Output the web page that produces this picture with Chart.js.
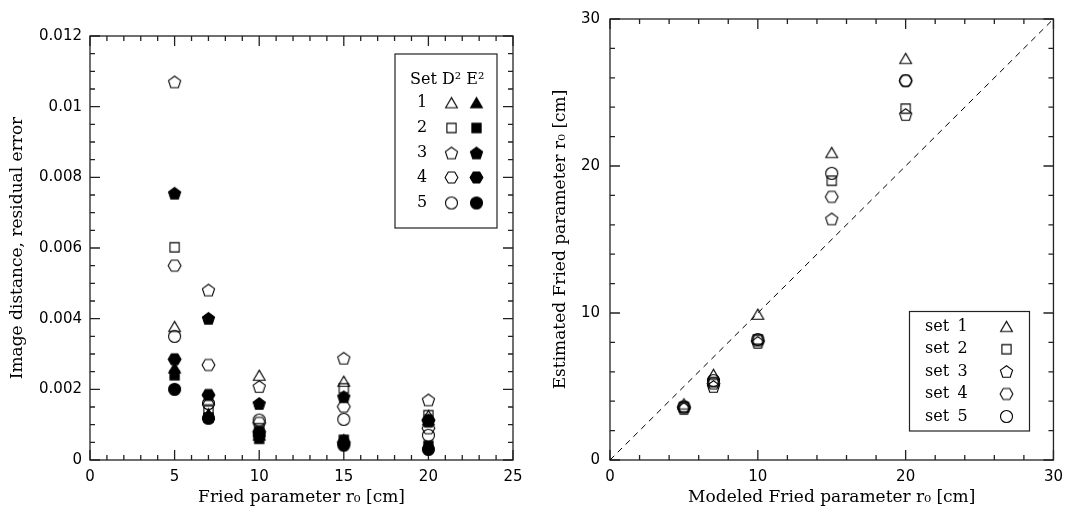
<!DOCTYPE html>
<html><head><meta charset="utf-8">
<script src="https://cdn.jsdelivr.net/npm/chart.js@4"></script>
<style>
html,body{margin:0;padding:0;background:#fff;}
#wrap{position:relative;width:1071px;height:515px;overflow:hidden;background:#fff;}
#c1{position:absolute;left:0;top:0;}
#c2{position:absolute;left:535px;top:0;}
</style></head><body>
<div id="wrap"><canvas id="c1" width="535" height="515"></canvas><canvas id="c2" width="536" height="515"></canvas></div>
<script>
// ---------- data ----------
const friedR0 = [5, 7, 10, 15, 20];
const setLabels = ['1', '2', '3', '4', '5'];
// D² (open markers)
const d2Set1 = [0.00377, 0.0017, 0.00239, 0.00222, 0.00125];
const d2Set2 = [0.00602, 0.0014, 0.0009, 0.00203, 0.00127];
const d2Set3 = [0.0107, 0.00481, 0.00208, 0.00288, 0.0017];
const d2Set4 = [0.0055, 0.00269, 0.00105, 0.00151, 0.0009];
const d2Set5 = [0.0035, 0.0016, 0.00113, 0.00115, 0.0007];
// E² (filled markers)
const e2Set1 = [0.0026, 0.0013, 0.0007, 0.00057, 0.00113];
const e2Set2 = [0.0024, 0.0012, 0.0006, 0.00057, 0.0004];
const e2Set3 = [0.00755, 0.00401, 0.0016, 0.00179, 0.0011];
const e2Set4 = [0.00285, 0.00184, 0.0008, 0.0005, 0.00113];
const e2Set5 = [0.002, 0.00118, 0.0007, 0.00042, 0.0003];
// right panel
const modeledR0 = [5, 7, 10, 15, 20];
const estSet1 = [3.8, 5.8, 9.9, 20.9, 27.3];
const estSet2 = [3.6, 5.3, 8.2, 19.0, 23.9];
const estSet3 = [3.5, 5.0, 8.0, 16.4, 23.5];
const estSet4 = [3.6, 5.2, 8.1, 17.9, 25.8];
const estSet5 = [3.6, 5.4, 8.2, 19.5, 25.8];
const diagonal = [0, 30];
// ticks
const leftXTicks = [0, 5, 10, 15, 20, 25];
const leftYTicks = [0, 0.002, 0.004, 0.006, 0.008, 0.01, 0.012];
const leftYTickLabels = ['0', '0.002', '0.004', '0.006', '0.008', '0.01', '0.012'];
const rightTicks = [0, 10, 20, 30];

// ---------- markers ----------
const shapes = ['triangle', 'square', 'pentagon', 'hexagon', 'circle'];
function makeMarker(shape, filled) {
  const s = 17, c = document.createElement('canvas');
  c.width = s; c.height = s;
  const g = c.getContext('2d');
  const cx = s / 2, cy = s / 2;
  g.lineWidth = 1.1; g.strokeStyle = '#000'; g.fillStyle = '#000';
  g.beginPath();
  if (shape === 'circle') {
    g.arc(cx, cy, 6, 0, Math.PI * 2);
  } else if (shape === 'square') {
    g.rect(cx - 4.6, cy - 4.6, 9.2, 9.2);
  } else {
    let n, r, rot;
    if (shape === 'triangle') { n = 3; r = 6.8; rot = -Math.PI / 2; }
    if (shape === 'pentagon') { n = 5; r = 6.4; rot = -Math.PI / 2; }
    if (shape === 'hexagon') { n = 6; r = 6.4; rot = 0; }
    const dy = shape === 'triangle' ? 1.4 : (shape === 'pentagon' ? 0.6 : 0);
    for (let k = 0; k < n; k++) {
      const a = rot + k * 2 * Math.PI / n;
      const px = cx + r * Math.cos(a), py = cy + dy + r * Math.sin(a);
      k ? g.lineTo(px, py) : g.moveTo(px, py);
    }
    g.closePath();
  }
  if (filled) g.fill();
  g.stroke();
  return c;
}
const openMarkers = shapes.map(s => makeMarker(s, false));
const filledMarkers = shapes.map(s => makeMarker(s, true));

// ---------- helpers ----------
const tickFont = { family: "'DejaVu Sans', sans-serif", size: 15 };
const titleFont = { family: "'DejaVu Serif', serif", size: 17 };
const legendFont = "16px 'DejaVu Serif', serif";

function frameDrawer(xMinor, xMajor, yMinor, yMajor) {
  return {
    id: 'frame',
    beforeDatasetsDraw(chart) {
      const { ctx, chartArea: { left, right, top, bottom }, scales: { x, y } } = chart;
      ctx.save();
      ctx.strokeStyle = '#222'; ctx.lineWidth = 1.3;
      ctx.strokeRect(left, top, right - left, bottom - top);
      const isMaj = (v, m) => Math.abs(v / m - Math.round(v / m)) < 1e-6;
      ctx.beginPath();
      for (let v = x.min; v <= x.max + 1e-9; v += xMinor) {
        const px = x.getPixelForValue(v), L = isMaj(v, xMajor) ? 10 : 5;
        ctx.moveTo(px, bottom); ctx.lineTo(px, bottom - L);
        ctx.moveTo(px, top); ctx.lineTo(px, top + L);
      }
      for (let v = y.min; v <= y.max + 1e-12; v += yMinor) {
        const py = y.getPixelForValue(v), L = isMaj(v, yMajor) ? 10 : 5;
        ctx.moveTo(left, py); ctx.lineTo(left + L, py);
        ctx.moveTo(right, py); ctx.lineTo(right - L, py);
      }
      ctx.stroke();
      ctx.restore();
    }
  };
}
const pts = (xs, ys) => xs.map((v, i) => ({ x: v, y: ys[i] }));

// ---------- left chart ----------
const d2All = [d2Set1, d2Set2, d2Set3, d2Set4, d2Set5];
const e2All = [e2Set1, e2Set2, e2Set3, e2Set4, e2Set5];
const leftDatasets = [];
d2All.forEach((arr, i) => leftDatasets.push({
  label: 'D² set ' + setLabels[i], data: pts(friedR0, arr), pointStyle: openMarkers[i], pointRadius: 6
}));
e2All.forEach((arr, i) => leftDatasets.push({
  label: 'E² set ' + setLabels[i], data: pts(friedR0, arr), pointStyle: filledMarkers[i], pointRadius: 6
}));

const leftLegend = {
  id: 'leftLegend',
  afterDraw(chart) {
    const ctx = chart.ctx;
    ctx.save();
    ctx.strokeStyle = '#222'; ctx.lineWidth = 1.2;
    ctx.strokeRect(395, 54, 102, 174);
    ctx.fillStyle = '#000'; ctx.font = legendFont; ctx.textBaseline = 'middle';
    ctx.textAlign = 'left';
    ctx.fillText('Set D² E²', 410, 80);
    const rows = [103, 128, 153, 177.5, 203];
    rows.forEach((ry, i) => {
      ctx.textAlign = 'center';
      ctx.fillText(setLabels[i], 422, ry);
      const o = openMarkers[i], f = filledMarkers[i];
      ctx.drawImage(o, 451.5 - o.width / 2, ry - o.height / 2);
      ctx.drawImage(f, 476.5 - f.width / 2, ry - f.height / 2);
    });
    ctx.restore();
  }
};

new Chart(document.getElementById('c1'), {
  type: 'scatter',
  data: { datasets: leftDatasets },
  options: {
    responsive: false, animation: false,
    layout: { padding: { top: 36, right: 22, left: 0, bottom: 0 } },
    plugins: { legend: { display: false }, tooltip: { enabled: false } },
    elements: { point: { borderWidth: 1 } },
    scales: {
      x: {
        type: 'linear', min: 0, max: 25,
        grid: { display: false, drawTicks: false }, border: { display: false },
        afterBuildTicks: s => { s.ticks = leftXTicks.map(v => ({ value: v })); },
        afterFit: s => { s.height = 55; },
        ticks: { color: '#000', font: tickFont, padding: 8, maxRotation: 0, autoSkip: false },
        title: { display: true, text: 'Fried parameter r₀ [cm]', color: '#000', font: titleFont, padding: { top: 0, bottom: 7 } }
      },
      y: {
        type: 'linear', min: 0, max: 0.012,
        grid: { display: false, drawTicks: false }, border: { display: false },
        afterBuildTicks: s => { s.ticks = leftYTicks.map(v => ({ value: v })); },
        afterFit: s => { s.width = 90; },
        ticks: { color: '#000', font: tickFont, padding: 8, autoSkip: false,
          callback: (v, i) => leftYTickLabels[i] },
        title: { display: true, text: 'Image distance, residual error', color: '#000', font: titleFont, padding: { top: 7, bottom: 0 } }
      }
    }
  },
  plugins: [frameDrawer(1, 5, 0.0005, 0.002), leftLegend]
});

// ---------- right chart ----------
const estAll = [estSet1, estSet2, estSet3, estSet4, estSet5];
const rightDatasets = [{
  label: 'one-to-one', data: pts(diagonal, diagonal), showLine: true, borderColor: '#000',
  borderWidth: 1, borderDash: [6, 5], pointRadius: 0, fill: false
}];
estAll.forEach((arr, i) => rightDatasets.push({
  label: 'set ' + setLabels[i], data: pts(modeledR0, arr), pointStyle: openMarkers[i], pointRadius: 6
}));

const rightLegend = {
  id: 'rightLegend',
  afterDraw(chart) {
    const ctx = chart.ctx;
    ctx.save();
    ctx.strokeStyle = '#222'; ctx.lineWidth = 1.2;
    ctx.strokeRect(374.5, 311.5, 120, 119.5);
    ctx.fillStyle = '#000'; ctx.font = legendFont; ctx.textBaseline = 'middle';
    const rows = [326.7, 349.2, 371.5, 394, 416.5];
    rows.forEach((ry, i) => {
      ctx.textAlign = 'left';
      ctx.fillText('set', 390, ry);
      ctx.textAlign = 'center';
      ctx.fillText(setLabels[i], 427.5, ry);
      const o = openMarkers[i];
      ctx.drawImage(o, 471.5 - o.width / 2, ry - o.height / 2);
    });
    ctx.restore();
  }
};

new Chart(document.getElementById('c2'), {
  type: 'scatter',
  data: { datasets: rightDatasets },
  options: {
    responsive: false, animation: false,
    layout: { padding: { top: 12, right: 13, left: 0, bottom: 0 } },
    plugins: { legend: { display: false }, tooltip: { enabled: false } },
    elements: { point: { borderWidth: 1 } },
    scales: {
      x: {
        type: 'linear', min: 0, max: 30,
        grid: { display: false, drawTicks: false }, border: { display: false },
        afterBuildTicks: s => { s.ticks = rightTicks.map(v => ({ value: v })); },
        afterFit: s => { s.height = 55; },
        ticks: { color: '#000', font: tickFont, padding: 8, maxRotation: 0, autoSkip: false },
        title: { display: true, text: 'Modeled Fried parameter r₀ [cm]', color: '#000', font: titleFont, padding: { top: 0, bottom: 7 } }
      },
      y: {
        type: 'linear', min: 0, max: 30,
        grid: { display: false, drawTicks: false }, border: { display: false },
        afterBuildTicks: s => { s.ticks = rightTicks.map(v => ({ value: v })); },
        afterFit: s => { s.width = 75; },
        ticks: { color: '#000', font: tickFont, padding: 10, autoSkip: false },
        title: { display: true, text: 'Estimated Fried parameter r₀ [cm]', color: '#000', font: titleFont, padding: { top: 15, bottom: 0 } }
      }
    }
  },
  plugins: [frameDrawer(2, 10, 2, 10), rightLegend]
});
</script>
</body></html>
